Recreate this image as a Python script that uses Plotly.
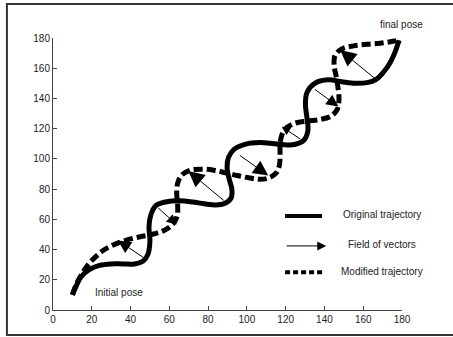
import plotly.graph_objects as go

# ---------------- data ----------------
orig_x = [10, 12, 14.5, 18.5, 24, 30, 36, 42, 46.5, 49, 50, 49.5, 50.5, 53, 58, 65.5,
          72, 78, 84, 88.5, 91.8, 92.3, 90.8, 89.8, 90.5, 93.5, 99.5, 106.5, 112, 118,
          124.5, 129.5, 131.5, 131, 130.2, 131, 135, 142, 149, 156, 162, 166.5, 170.5,
          174, 176.5, 178.5]
orig_y = [10, 16, 22, 26.5, 29.5, 30.5, 30.5, 30.5, 32.5, 37, 46, 55, 63, 69, 71.5, 72.3,
          71.5, 70.3, 69.5, 70.5, 74, 79.5, 87, 94, 101, 106.5, 109.8, 110.8, 110.3, 109.5,
          109.5, 112.5, 119, 127, 136, 144, 150, 152.3, 151, 150, 150.5, 152.5, 157.5,
          164, 171, 178.5]

mod_x = [10, 12, 14.5, 17.5, 21, 26, 31, 38, 45, 51, 57, 61.5, 64, 64.3, 63.8, 64.3, 66.4,
         70.7, 77, 83, 89, 95, 101, 106.5, 111, 115, 116.8, 117.1, 117.3, 119.5, 124.5,
         131, 137.5, 143, 146.5, 147.5, 147, 146, 145, 145.5, 149, 155, 162, 168.7, 174,
         178.5]
mod_y = [10, 17, 23, 29, 34, 39.5, 43, 46.3, 48.5, 50, 52.5, 56.5, 62, 69, 77, 84, 89.3,
         92.5, 93.2, 92.5, 90.8, 89, 87.5, 86.5, 87.3, 90.5, 96, 104, 112, 119.5, 123.5,
         125, 126, 128, 132.5, 139, 147, 155, 161.5, 168.5, 172.8, 174.8, 175.8, 176.5,
         177.5, 178.5]

# field of vectors: tail on original trajectory -> head on modified trajectory
vec_x0 = [47.5, 53.5, 88.8, 95.6, 128.3, 134.3, 167.0]
vec_y0 = [34.0, 68.4, 71.7, 103.0, 112.5, 146.7, 152.2]
vec_x1 = [33.5, 63.8, 69.8, 111.0, 118.0, 147.2, 148.1]
vec_y1 = [46.0, 56.5, 92.0, 89.0, 121.3, 134.6, 172.0]

tick_vals = [0, 20, 40, 60, 80, 100, 120, 140, 160, 180]
tick_text = ["0", "20", "40", "60", "80", "100", "120", "140", "160", "180"]

legend_labels = ["Original trajectory", "Field of vectors", "Modified trajectory"]
label_initial = "Initial pose"
label_final = "final pose"

# ---------------- styling ----------------
HEAD_SIZES = [2.6, 2.0, 3.2, 3.0, 1.7, 2.4, 3.2]
FONT = "Liberation Sans, Arial, sans-serif"
TXT = "#222222"
AX = "#444444"

fig = go.Figure()

fig.add_trace(go.Scatter(x=orig_x, y=orig_y, mode="lines",
                         line=dict(color="black", width=5, shape="spline", smoothing=1.0),
                         hoverinfo="skip", showlegend=False))
fig.add_trace(go.Scatter(x=mod_x, y=mod_y, mode="lines",
                         line=dict(color="black", width=5, dash="9px,4px",
                                   shape="spline", smoothing=1.0),
                         hoverinfo="skip", showlegend=False))

annotations = []
for x0, y0, x1, y1, hs in zip(vec_x0, vec_y0, vec_x1, vec_y1, HEAD_SIZES):
    annotations.append(dict(x=x1, y=y1, ax=x0, ay=y0, xref="x", yref="y",
                            axref="x", ayref="y", showarrow=True, text="",
                            arrowhead=2, arrowsize=hs, arrowwidth=1,
                            arrowcolor="black"))

# labels
annotations.append(dict(x=34.2, y=11.3, xref="x", yref="y", text=label_initial,
                        xanchor="center", yanchor="middle",
                        showarrow=False, font=dict(family=FONT, size=10, color=TXT)))
annotations.append(dict(x=0.9986, y=1.048, xref="paper", yref="paper", text=label_final,
                        xanchor="center", yanchor="middle",
                        showarrow=False, font=dict(family=FONT, size=10, color=TXT)))

# manual legend (axis-domain coordinates)
leg_y = [0.3456, 0.2356, 0.139]
leg_x0, leg_x1 = 0.665, 0.771
leg_arrow_x1 = 0.783
leg_text_x = 0.943
for i, lab in enumerate(legend_labels):
    annotations.append(dict(x=leg_text_x, y=leg_y[i] + 0.004, xref="paper", yref="paper",
                            xanchor="center", yanchor="middle",
                            text=lab, showarrow=False,
                            font=dict(family=FONT, size=10, color=TXT)))

shapes = [
    dict(type="line", xref="paper", yref="paper", x0=leg_x0, x1=leg_x1,
         y0=leg_y[0], y1=leg_y[0], line=dict(color="black", width=4)),
    dict(type="line", xref="paper", yref="paper", x0=leg_x0, x1=leg_x1,
         y0=leg_y[2], y1=leg_y[2], line=dict(color="black", width=4, dash="5px,3px")),
    # outer frame
    dict(type="rect", xref="paper", yref="paper", x0=-0.132, x1=1.16,
         y0=-0.0919, y1=1.125, line=dict(color="#333333", width=2)),
]
annotations.append(dict(x=leg_arrow_x1, y=leg_y[1], ax=leg_x0, ay=leg_y[1],
                        xref="x domain", yref="y domain", axref="x domain",
                        ayref="y domain", showarrow=True, text="", arrowhead=2,
                        arrowsize=1.8, arrowwidth=1, arrowcolor="black"))

axis_common = dict(range=[0, 180], tickvals=tick_vals, ticktext=tick_text,
                   showgrid=False, zeroline=False, showline=True, linecolor=AX,
                   linewidth=1, ticks="inside", ticklen=4, tickcolor=AX,
                   tickfont=dict(family=FONT, size=10, color=TXT), fixedrange=True)

fig.update_layout(
    width=453, height=337,
    margin=dict(l=53, r=51, t=38, b=27),
    paper_bgcolor="white", plot_bgcolor="white",
    xaxis=dict(**axis_common),
    yaxis=dict(**axis_common),
    annotations=annotations,
    shapes=shapes,
    showlegend=False,
)

fig.write_html("out.html")
